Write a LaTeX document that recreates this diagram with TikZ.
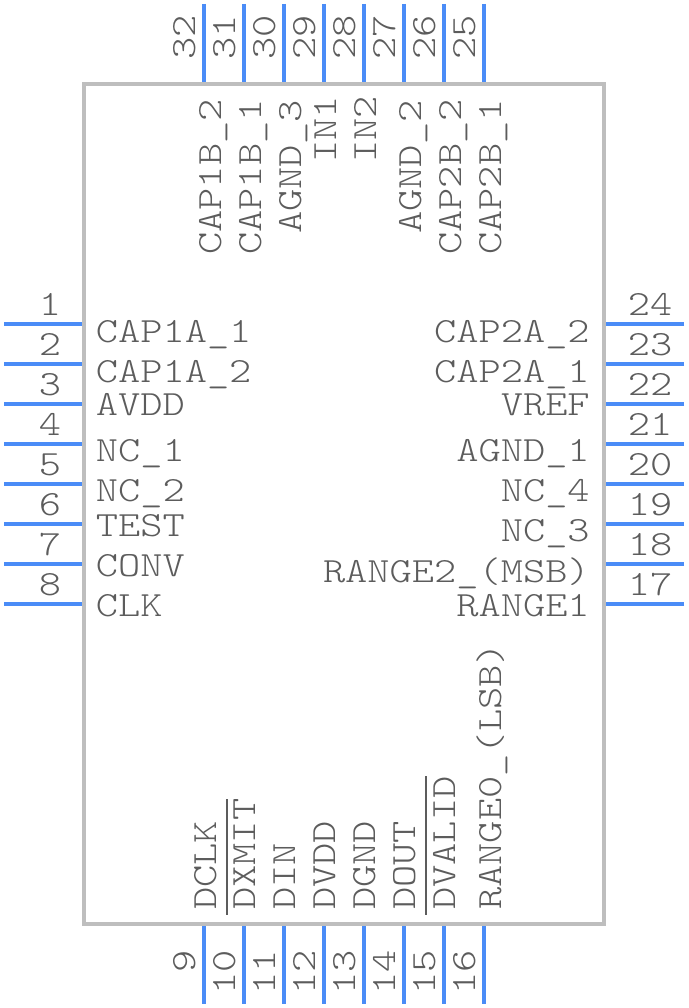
\documentclass[tikz,border=0pt]{standalone}
\usepackage{fontspec}
\setmonofont[FakeStretch=1.195]{Latin Modern Mono Light}
\usepackage{xcolor}
\usetikzlibrary{positioning}
\definecolor{bodygray}{HTML}{BEBEBE}
\definecolor{pinblue}{HTML}{4A8CF7}
\definecolor{textgray}{HTML}{5C5C5C}
\newcommand{\ovl}[1]{\hbox{\kern -0.14em\vbox{\hrule height 0.06em \kern 0.16em \hbox{\kern 0.14em #1}}}}
\tikzstyle{body} = [rectangle, draw=bodygray, line width=0.1cm, minimum width=13cm, minimum height=21cm, inner sep=0pt]
\tikzstyle{pinline} = [draw=pinblue, line width=0.1cm]
\tikzstyle{txt} = [inner sep=0pt, text=textgray, font=\fontsize{25.2pt}{30pt}\selectfont\ttfamily]
\tikzstyle{lname} = [txt, anchor=base west]
\tikzstyle{rname} = [txt, anchor=base east]
\tikzstyle{vname} = [txt, anchor=base west, rotate=90]
\tikzstyle{hnum} = [txt, anchor=base]
\tikzstyle{tnum} = [txt, anchor=base, rotate=90]
\tikzstyle{bnum} = [txt, anchor=base east, rotate=90]

\begin{document}
\begin{tikzpicture}
    \useasboundingbox (0,0) rectangle (17.2,25.2);
    \node[body] (ic) at (8.6,12.6) {};

    % left side
    \coordinate (p1a) at (0.1,17.1);  \coordinate (p1b) at (2.05,17.1);
    \coordinate (p2a) at (0.1,16.1);  \coordinate (p2b) at (2.05,16.1);
    \coordinate (p3a) at (0.1,15.1);  \coordinate (p3b) at (2.05,15.1);
    \coordinate (p4a) at (0.1,14.1);  \coordinate (p4b) at (2.05,14.1);
    \coordinate (p5a) at (0.1,13.1);  \coordinate (p5b) at (2.05,13.1);
    \coordinate (p6a) at (0.1,12.1);  \coordinate (p6b) at (2.05,12.1);
    \coordinate (p7a) at (0.1,11.1);  \coordinate (p7b) at (2.05,11.1);
    \coordinate (p8a) at (0.1,10.1);  \coordinate (p8b) at (2.05,10.1);
    \draw[pinline] (p1a) -- (p1b); \draw[pinline] (p2a) -- (p2b);
    \draw[pinline] (p3a) -- (p3b); \draw[pinline] (p4a) -- (p4b);
    \draw[pinline] (p5a) -- (p5b); \draw[pinline] (p6a) -- (p6b);
    \draw[pinline] (p7a) -- (p7b); \draw[pinline] (p8a) -- (p8b);

    \node[hnum] (n1) at (1.25,17.3) {1};
    \node[hnum] (n2) at (1.25,16.3) {2};
    \node[hnum] (n3) at (1.25,15.3) {3};
    \node[hnum] (n4) at (1.25,14.3) {4};
    \node[hnum] (n5) at (1.25,13.3) {5};
    \node[hnum] (n6) at (1.25,12.3) {6};
    \node[hnum] (n7) at (1.25,11.3) {7};
    \node[hnum] (n8) at (1.25,10.3) {8};

    \node[lname] (lbl1) at (2.39,16.625) {CAP1A\_1};
    \node[lname] (lbl2) at (2.39,15.625) {CAP1A\_2};
    \node[lname] (lbl3) at (2.39,14.8) {AVDD};
    \node[lname] (lbl4) at (2.39,13.65) {NC\_1};
    \node[lname] (lbl5) at (2.39,12.65) {NC\_2};
    \node[lname] (lbl6) at (2.39,11.775) {TEST};
    \node[lname] (lbl7) at (2.39,10.775) {CONV};
    \node[lname] (lbl8) at (2.39,9.775) {CLK};

    % bottom side
    \coordinate (p9a) at (5.1,0.1);   \coordinate (p9b) at (5.1,2.05);
    \coordinate (p10a) at (6.1,0.1);  \coordinate (p10b) at (6.1,2.05);
    \coordinate (p11a) at (7.1,0.1);  \coordinate (p11b) at (7.1,2.05);
    \coordinate (p12a) at (8.1,0.1);  \coordinate (p12b) at (8.1,2.05);
    \coordinate (p13a) at (9.1,0.1);  \coordinate (p13b) at (9.1,2.05);
    \coordinate (p14a) at (10.1,0.1); \coordinate (p14b) at (10.1,2.05);
    \coordinate (p15a) at (11.1,0.1); \coordinate (p15b) at (11.1,2.05);
    \coordinate (p16a) at (12.1,0.1); \coordinate (p16b) at (12.1,2.05);
    \draw[pinline] (p9a) -- (p9b);   \draw[pinline] (p10a) -- (p10b);
    \draw[pinline] (p11a) -- (p11b); \draw[pinline] (p12a) -- (p12b);
    \draw[pinline] (p13a) -- (p13b); \draw[pinline] (p14a) -- (p14b);
    \draw[pinline] (p15a) -- (p15b); \draw[pinline] (p16a) -- (p16b);

    \node[bnum] (n9) at (4.875,1.45) {9};
    \node[bnum] (n10) at (5.875,1.45) {10};
    \node[bnum] (n11) at (6.875,1.45) {11};
    \node[bnum] (n12) at (7.875,1.45) {12};
    \node[bnum] (n13) at (8.875,1.45) {13};
    \node[bnum] (n14) at (9.875,1.45) {14};
    \node[bnum] (n15) at (10.875,1.45) {15};
    \node[bnum] (n16) at (11.875,1.45) {16};

    \node[vname] (lbl9) at (5.4,2.45) {DCLK};
    \node[vname] (lbl10) at (6.375,2.45) {\ovl{DXMIT}};
    \node[vname] (lbl11) at (7.375,2.45) {DIN};
    \node[vname] (lbl12) at (8.375,2.45) {DVDD};
    \node[vname] (lbl13) at (9.375,2.45) {DGND};
    \node[vname] (lbl14) at (10.375,2.45) {DOUT};
    \node[vname] (lbl15) at (11.375,2.45) {\ovl{DVALID}};
    \node[vname] (lbl16) at (12.525,2.45) {RANGE0\_(LSB)};

    % right side
    \coordinate (p17a) at (17.1,10.1); \coordinate (p17b) at (15.15,10.1);
    \coordinate (p18a) at (17.1,11.1); \coordinate (p18b) at (15.15,11.1);
    \coordinate (p19a) at (17.1,12.1); \coordinate (p19b) at (15.15,12.1);
    \coordinate (p20a) at (17.1,13.1); \coordinate (p20b) at (15.15,13.1);
    \coordinate (p21a) at (17.1,14.1); \coordinate (p21b) at (15.15,14.1);
    \coordinate (p22a) at (17.1,15.1); \coordinate (p22b) at (15.15,15.1);
    \coordinate (p23a) at (17.1,16.1); \coordinate (p23b) at (15.15,16.1);
    \coordinate (p24a) at (17.1,17.1); \coordinate (p24b) at (15.15,17.1);
    \draw[pinline] (p17a) -- (p17b); \draw[pinline] (p18a) -- (p18b);
    \draw[pinline] (p19a) -- (p19b); \draw[pinline] (p20a) -- (p20b);
    \draw[pinline] (p21a) -- (p21b); \draw[pinline] (p22a) -- (p22b);
    \draw[pinline] (p23a) -- (p23b); \draw[pinline] (p24a) -- (p24b);

    \node[hnum] (n17) at (16.25,10.3) {17};
    \node[hnum] (n18) at (16.25,11.3) {18};
    \node[hnum] (n19) at (16.25,12.3) {19};
    \node[hnum] (n20) at (16.25,13.3) {20};
    \node[hnum] (n21) at (16.25,14.3) {21};
    \node[hnum] (n22) at (16.25,15.3) {22};
    \node[hnum] (n23) at (16.25,16.3) {23};
    \node[hnum] (n24) at (16.25,17.3) {24};

    \node[rname] (lbl17) at (14.75,9.775) {RANGE1};
    \node[rname] (lbl18) at (14.75,10.625) {RANGE2\_(MSB)};
    \node[rname] (lbl19) at (14.75,11.65) {NC\_3};
    \node[rname] (lbl20) at (14.75,12.65) {NC\_4};
    \node[rname] (lbl21) at (14.75,13.65) {AGND\_1};
    \node[rname] (lbl22) at (14.75,14.8) {VREF};
    \node[rname] (lbl23) at (14.75,15.625) {CAP2A\_1};
    \node[rname] (lbl24) at (14.75,16.625) {CAP2A\_2};

    % top side
    \coordinate (p25a) at (12.1,25.1); \coordinate (p25b) at (12.1,23.15);
    \coordinate (p26a) at (11.1,25.1); \coordinate (p26b) at (11.1,23.15);
    \coordinate (p27a) at (10.1,25.1); \coordinate (p27b) at (10.1,23.15);
    \coordinate (p28a) at (9.1,25.1);  \coordinate (p28b) at (9.1,23.15);
    \coordinate (p29a) at (8.1,25.1);  \coordinate (p29b) at (8.1,23.15);
    \coordinate (p30a) at (7.1,25.1);  \coordinate (p30b) at (7.1,23.15);
    \coordinate (p31a) at (6.1,25.1);  \coordinate (p31b) at (6.1,23.15);
    \coordinate (p32a) at (5.1,25.1);  \coordinate (p32b) at (5.1,23.15);
    \draw[pinline] (p25a) -- (p25b); \draw[pinline] (p26a) -- (p26b);
    \draw[pinline] (p27a) -- (p27b); \draw[pinline] (p28a) -- (p28b);
    \draw[pinline] (p29a) -- (p29b); \draw[pinline] (p30a) -- (p30b);
    \draw[pinline] (p31a) -- (p31b); \draw[pinline] (p32a) -- (p32b);

    \node[tnum] (n25) at (11.875,24.26) {25};
    \node[tnum] (n26) at (10.875,24.26) {26};
    \node[tnum] (n27) at (9.875,24.26) {27};
    \node[tnum] (n28) at (8.875,24.26) {28};
    \node[tnum] (n29) at (7.875,24.26) {29};
    \node[tnum] (n30) at (6.875,24.26) {30};
    \node[tnum] (n31) at (5.875,24.26) {31};
    \node[tnum] (n32) at (4.875,24.26) {32};

    \node[vname] (lbl25) at (12.54,18.825) {CAP2B\_1};
    \node[vname] (lbl26) at (11.54,18.825) {CAP2B\_2};
    \node[vname] (lbl27) at (10.54,19.35) {AGND\_2};
    \node[vname] (lbl28) at (9.4,21.125) {IN2};
    \node[vname] (lbl29) at (8.4,21.125) {IN1};
    \node[vname] (lbl30) at (7.54,19.35) {AGND\_3};
    \node[vname] (lbl31) at (6.54,18.825) {CAP1B\_1};
    \node[vname] (lbl32) at (5.54,18.825) {CAP1B\_2};
\end{tikzpicture}
\end{document}
